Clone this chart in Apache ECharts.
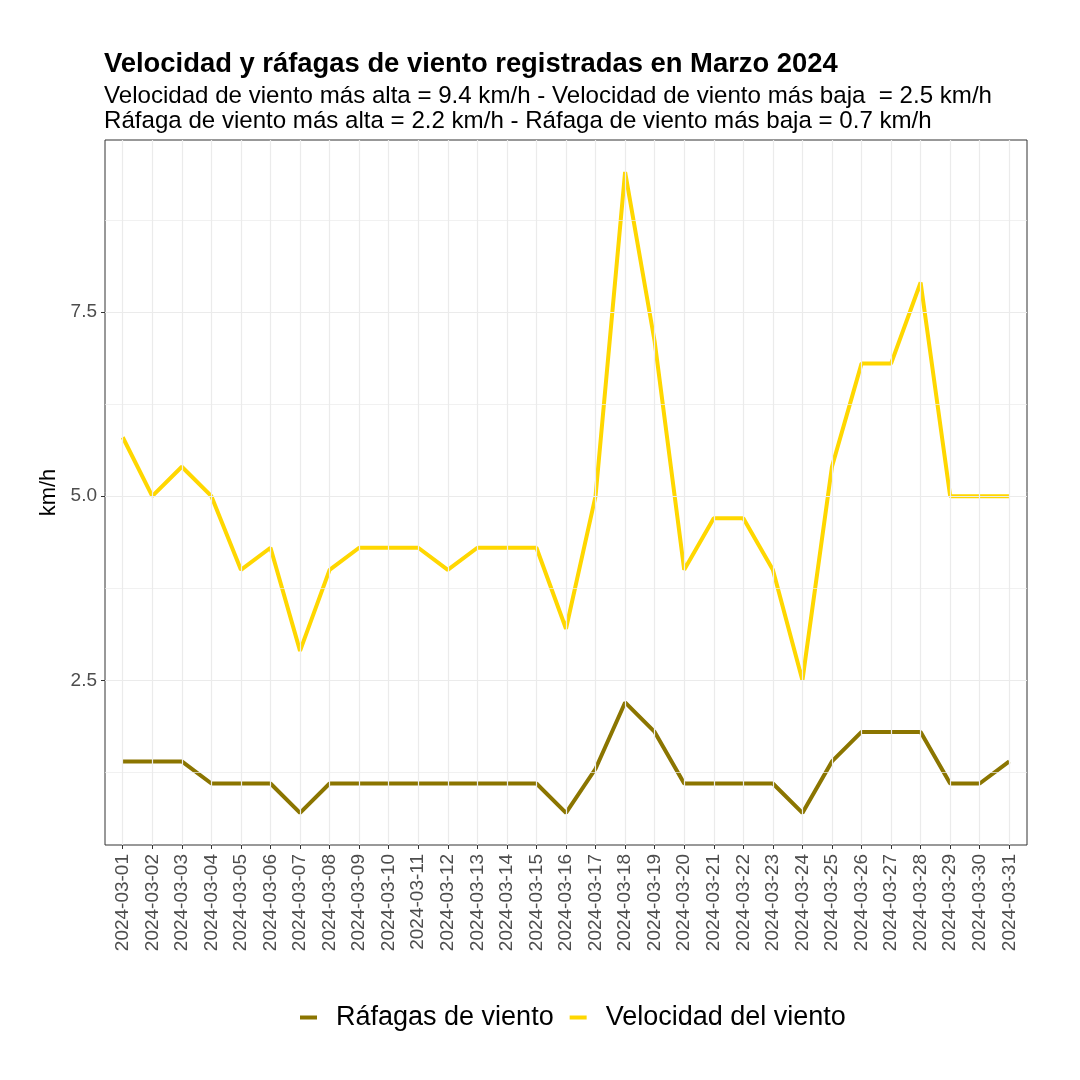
<!DOCTYPE html>
<html style="height: 100%">
<head>
<meta charset="utf-8">
<script type="text/javascript" src="https://cdn.jsdelivr.net/npm/echarts@6/dist/echarts.min.js"></script>
</head>
<body style="height: 100%; margin: 0; background: #fff">
<div id="container" style="width: 1080px; height: 1080px"></div>
<script type="text/javascript">
// fechas del mes (eje x)
var fechas = ['2024-03-01','2024-03-02','2024-03-03','2024-03-04','2024-03-05','2024-03-06','2024-03-07',
  '2024-03-08','2024-03-09','2024-03-10','2024-03-11','2024-03-12','2024-03-13','2024-03-14','2024-03-15',
  '2024-03-16','2024-03-17','2024-03-18','2024-03-19','2024-03-20','2024-03-21','2024-03-22','2024-03-23',
  '2024-03-24','2024-03-25','2024-03-26','2024-03-27','2024-03-28','2024-03-29','2024-03-30','2024-03-31'];

// km/h
var velocidad = [5.8, 5.0, 5.4, 5.0, 4.0, 4.3, 2.9, 4.0, 4.3, 4.3, 4.3, 4.0, 4.3, 4.3, 4.3,
  3.2, 5.0, 9.4, 7.1, 4.0, 4.7, 4.7, 4.0, 2.5, 5.4, 6.8, 6.8, 7.9, 5.0, 5.0, 5.0];
var rafagas = [1.4, 1.4, 1.4, 1.1, 1.1, 1.1, 0.7, 1.1, 1.1, 1.1, 1.1, 1.1, 1.1, 1.1, 1.1,
  0.7, 1.3, 2.2, 1.8, 1.1, 1.1, 1.1, 1.1, 0.7, 1.4, 1.8, 1.8, 1.8, 1.1, 1.1, 1.4];

var yMayores = [2.5, 5.0, 7.5];
var yMenores = [1.25, 3.75, 6.25, 8.75];

var indices = fechas.map(function (f, i) { return i; });
function pares(arr) { return arr.map(function (v, i) { return [i, v]; }); }

var myChart = echarts.init(document.getElementById('container'));

// lineas de la rejilla (estilo theme_bw)
var rejilla = [];
yMenores.forEach(function (v) { rejilla.push({ yAxis: v, lineStyle: { color: '#EBEBEB', width: 0.7, type: 'solid' } }); });
yMayores.forEach(function (v) { rejilla.push({ yAxis: v, lineStyle: { color: '#EBEBEB', width: 1.2, type: 'solid' } }); });
indices.forEach(function (i) { rejilla.push({ xAxis: i, lineStyle: { color: '#EBEBEB', width: 1.2, type: 'solid' } }); });

var option = {
  animation: false,
  textStyle: { fontFamily: 'Liberation Sans, Arial, sans-serif' },
  title: {
    text: 'Velocidad y ráfagas de viento registradas en Marzo 2024',
    subtext: 'Velocidad de viento más alta = 9.4 km/h - Velocidad de viento más baja  = 2.5 km/h\nRáfaga de viento más alta = 2.2 km/h - Ráfaga de viento más baja = 0.7 km/h',
    left: 99,
    top: 46,
    itemGap: 6,
    textStyle: { fontSize: 27.4, fontWeight: 'bold', color: '#000' },
    subtextStyle: { fontSize: 24.1, color: '#000', lineHeight: 25 }
  },
  legend: {
    bottom: 44,
    left: 295,
    itemGap: 16,
    itemWidth: 17,
    itemHeight: 4,
    icon: 'rect',
    textStyle: { fontSize: 27, color: '#000', padding: [0, 0, 0, 14] },
    data: ['Ráfagas de viento', 'Velocidad del viento']
  },
  grid: {
    left: 105, right: 53, top: 140, bottom: 235,
    show: true, borderColor: '#333333', borderWidth: 1, backgroundColor: '#fff'
  },
  xAxis: {
    type: 'value',
    min: -0.6,
    max: 30.6,
    splitLine: { show: false },
    axisLine: { show: false, onZero: false },
    axisTick: { show: true, length: 4, customValues: indices, lineStyle: { color: '#333333' } },
    axisLabel: {
      customValues: indices,
      rotate: 90,
      margin: 9,
      fontSize: 19,
      color: '#4D4D4D',
      formatter: function (v) { return fechas[Math.round(v)]; }
    }
  },
  yAxis: {
    type: 'value',
    min: 0.265,
    max: 9.835,
    name: 'km/h',
    nameLocation: 'middle',
    nameGap: 41,
    nameTextStyle: { fontSize: 22, color: '#000' },
    splitLine: { show: false },
    axisLine: { show: false, onZero: false },
    axisTick: { show: true, length: 4, customValues: yMayores, lineStyle: { color: '#333333' } },
    axisLabel: {
      customValues: yMayores,
      margin: 8,
      fontSize: 19,
      color: '#4D4D4D',
      formatter: function (v) { return v.toFixed(1); }
    }
  },
  series: [
    {
      name: 'rejilla',
      type: 'line',
      data: [],
      silent: true,
      z: 1,
      markLine: { silent: true, symbol: 'none', label: { show: false }, data: rejilla }
    },
    {
      name: 'Ráfagas de viento',
      type: 'line',
      data: pares(rafagas),
      showSymbol: false,
      color: '#8B7500',
      lineStyle: { width: 4, color: '#8B7500' },
      z: 3
    },
    {
      name: 'Velocidad del viento',
      type: 'line',
      data: pares(velocidad),
      showSymbol: false,
      color: '#FFD700',
      lineStyle: { width: 4, color: '#FFD700' },
      z: 3
    }
  ]
};

myChart.setOption(option);
</script>
</body>
</html>
